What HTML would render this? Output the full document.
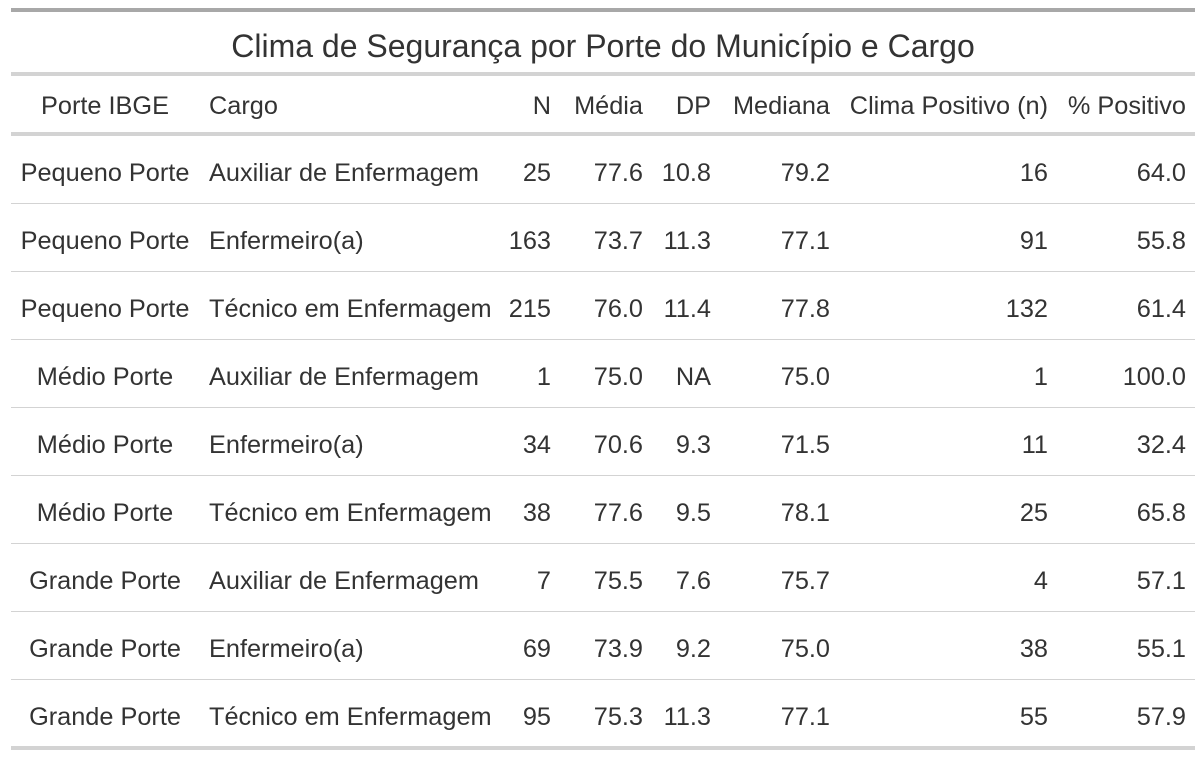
<!DOCTYPE html>
<html><head><meta charset="utf-8"><style>
body{margin:0;background:#fff;width:1204px;height:758px;position:relative;overflow:hidden;font-family:"Liberation Sans",sans-serif;color:#333;}
.ln{position:absolute;left:11px;width:1184px;background:#d3d3d3;}
.t{position:absolute;font-size:25.3px;white-space:nowrap;line-height:30px;}
</style></head><body>
<div class="ln" style="top:8px;height:4px;background:#a8a8a8"></div>
<div class="t" style="left:0;width:1206px;text-align:center;top:28px;font-size:32px;line-height:36px">Clima de Segurança por Porte do Município e Cargo</div>
<div class="ln" style="top:72px;height:4px"></div>
<div class="ln" style="top:132px;height:4px"></div>
<div class="ln" style="top:746px;height:4px"></div>
<div id="tbl"></div>
<script>
const headers=["Porte IBGE","Cargo","N","Média","DP","Mediana","Clima Positivo (n)","% Positivo"];
const porte=["Pequeno Porte","Pequeno Porte","Pequeno Porte","Médio Porte","Médio Porte","Médio Porte","Grande Porte","Grande Porte","Grande Porte"];
const cargo=["Auxiliar de Enfermagem","Enfermeiro(a)","Técnico em Enfermagem","Auxiliar de Enfermagem","Enfermeiro(a)","Técnico em Enfermagem","Auxiliar de Enfermagem","Enfermeiro(a)","Técnico em Enfermagem"];
const nVals=["25","163","215","1","34","38","7","69","95"];
const media=["77.6","73.7","76.0","75.0","70.6","77.6","75.5","73.9","75.3"];
const dp=["10.8","11.3","11.4","NA","9.3","9.5","7.6","9.2","11.3"];
const mediana=["79.2","77.1","77.8","75.0","71.5","78.1","75.7","75.0","77.1"];
const climaN=["16","91","132","1","11","25","4","38","55"];
const pct=["64.0","55.8","61.4","100.0","32.4","65.8","57.1","55.1","57.9"];
const cols=[porte,cargo,nVals,media,dp,mediana,climaN,pct];
const colNames=["porte","cargo","n","media","dp","mediana","clima-n","pct"];
const lay=[["c",105],["l",209],["r",551],["r",643],["r",711],["r",830],["r",1048],["r",1186]];
const tbl=document.getElementById('tbl');
function put(txt,li,y,name){
  const d=document.createElement('div');
  d.className='t';d.textContent=txt;
  
  
  const [a,x]=lay[li];
  if(a==='l'){d.style.left=x+'px';}
  else if(a==='r'){d.style.right=(1204-x)+'px';}
  else{d.style.left=(x-150)+'px';d.style.width='300px';d.style.textAlign='center';}
  d.style.top=(y-14)+'px';
  tbl.appendChild(d);
}
headers.forEach((h,i)=>put(h,i,105,'header-'+colNames[i]));
for(let r=0;r<porte.length;r++){
  const cy=172+r*68;
  cols.forEach((c,i)=>put(c[r],i,cy,'cell-'+colNames[i]+'-'+(r+1)));
  if(r<porte.length-1){
    const l=document.createElement('div');
    l.className='ln';l.style.top=(203+r*68)+'px';l.style.height='1px';
    
    
    tbl.appendChild(l);
  }
}
</script>
</body></html>
